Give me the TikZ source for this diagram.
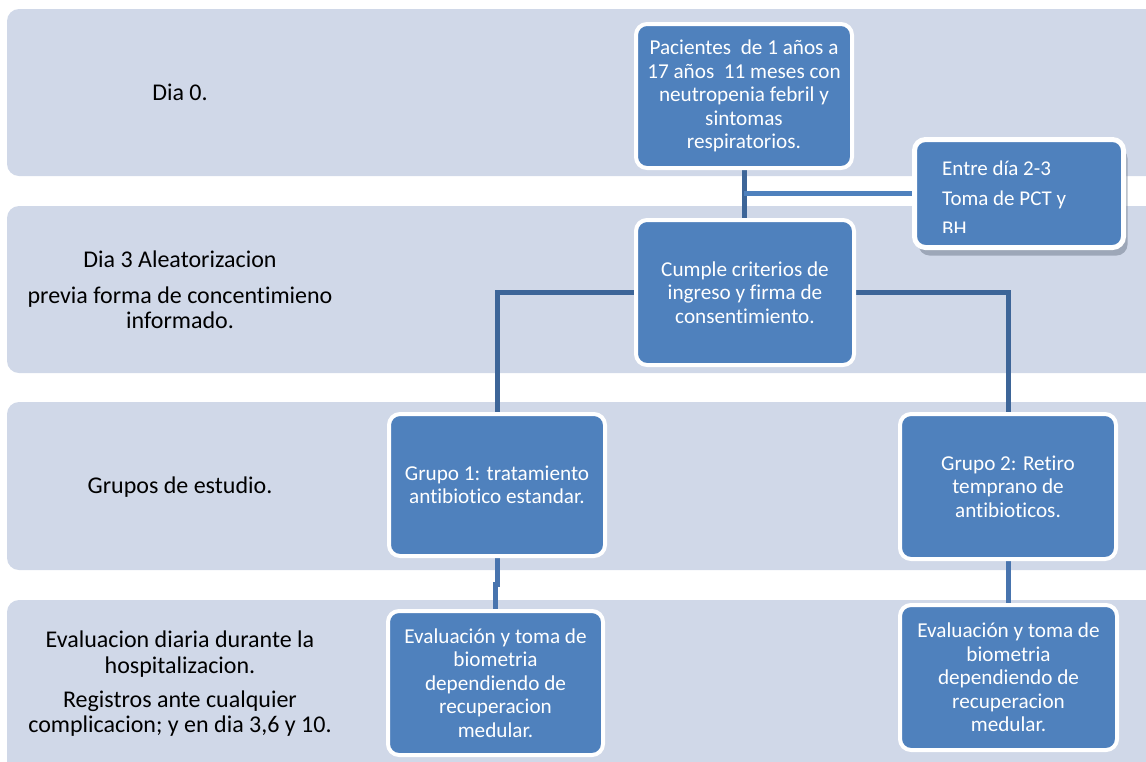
\documentclass[tikz,border=0pt]{standalone}
\usepackage{fontspec}
\setmainfont{Carlito}[Ligatures=NoCommon]
\usetikzlibrary{shadows}
\definecolor{cBand}{HTML}{D0D8E8}
\definecolor{cBox}{HTML}{4F81BD}
\definecolor{cLine}{HTML}{3D6598}
\definecolor{cLineL}{HTML}{4874AE}
\definecolor{cShadow}{HTML}{6B7789}
\pgfdeclarelayer{bands}
\pgfdeclarelayer{links}
\pgfsetlayers{bands,links,main}

\begin{document}
\begin{tikzpicture}[x=1pt, y=-1pt,
    band/.style={fill=cBand, rounded corners=12pt},
    blk/.style={rectangle, rounded corners=11pt, draw=white, line width=4pt,
      fill=cBox, text=white, align=center, inner sep=0pt,
      font=\fontsize{21.2}{23.5}\selectfont},
    lbl/.style={align=center, text=black, font=\fontsize{24}{24.5}\selectfont},
    link/.style={draw=cLine, line width=5pt}]

    \useasboundingbox (0,0) rectangle (1146,761);

    % time bands
    \begin{pgfonlayer}{bands}
      \foreach \top/\bot in {9/176, 206/373, 402/570, 600/790}
        \fill[band] (7,\top) rectangle (1190,\bot);
    \end{pgfonlayer}

    % left column
    \node[lbl, anchor=base] (d0)  at (180,100)   {Dia 0.};
    \node[lbl]              (d3)  at (180,289.5) {Dia 3 Aleatorizacion\\[12pt] previa forma de concentimieno\\ informado.};
    \node[lbl, anchor=base] (grp) at (180,493)   {Grupos de estudio.};
    \node[lbl]              (eva) at (180,683.5) {Evaluacion diaria durante la\\[1pt] hospitalizacion.\\[10pt] Registros ante cualquier\\ complicacion; y en dia 3,6 y 10.};

    % flow boxes
    \node[blk, minimum width=216pt, minimum height=144pt] (pac) at (744,96)
      {Pacientes\ \ de 1 años a\\ 17 años\ \ 11 meses con\\ neutropenia febril y\\ sintomas\\ respiratorios.};
    \node[blk, minimum width=218pt, minimum height=145pt] (cum) at (745,292.5)
      {Cumple criterios de\\ ingreso y firma de\\ consentimiento.};
    \node[blk, minimum width=216pt, minimum height=142pt] (gr1) at (497,485)
      {Grupo 1: tratamiento\\ antibiotico estandar.};
    \node[blk, minimum width=216pt, minimum height=145pt] (gr2) at (1008,486.5)
      {Grupo 2: Retiro\\ temprano de\\ antibioticos.};
    \node[blk, minimum width=215pt, minimum height=144pt] (ev1) at (495.5,683)
      {Evaluación y toma de\\ biometria\\ dependiendo de\\ recuperacion\\ medular.};
    \node[blk, minimum width=217pt, minimum height=145pt] (ev2) at (1008.5,677.5)
      {Evaluación y toma de\\ biometria\\ dependiendo de\\ recuperacion\\ medular.};

    \node[blk, line width=5pt, minimum width=209pt, minimum height=108pt,
      drop shadow={shadow xshift=4pt, shadow yshift=-8pt, fill=cShadow}] (pct) at (1019,193.5) {};
    \begin{scope}
      \clip (912,137) rectangle (1126,232);
      \node[anchor=north west, align=left, text=white, inner sep=0pt,
        font=\fontsize{21}{30}\selectfont] (pctt) at (942,161) {Entre día 2-3\\ Toma de PCT y\\ BH};
    \end{scope}

    % connectors
    \begin{pgfonlayer}{links}
      \draw[link] (pac.south) -- (pac.south |- cum.north);
      \draw[link, draw=cBox] (pac.south |- pct.west) -- (pct.west);
      \draw[link] (cum.west) -| (gr1.north);
      \draw[link] (cum.east) -| (gr2.north);
      \draw[link, draw=cLineL] (gr1.south) -- ++(0,26) -| (ev1.north);
      \draw[link, draw=cLineL] (gr2.south) -- ++(0,26) -| (ev2.north);
    \end{pgfonlayer}
\end{tikzpicture}
\end{document}
